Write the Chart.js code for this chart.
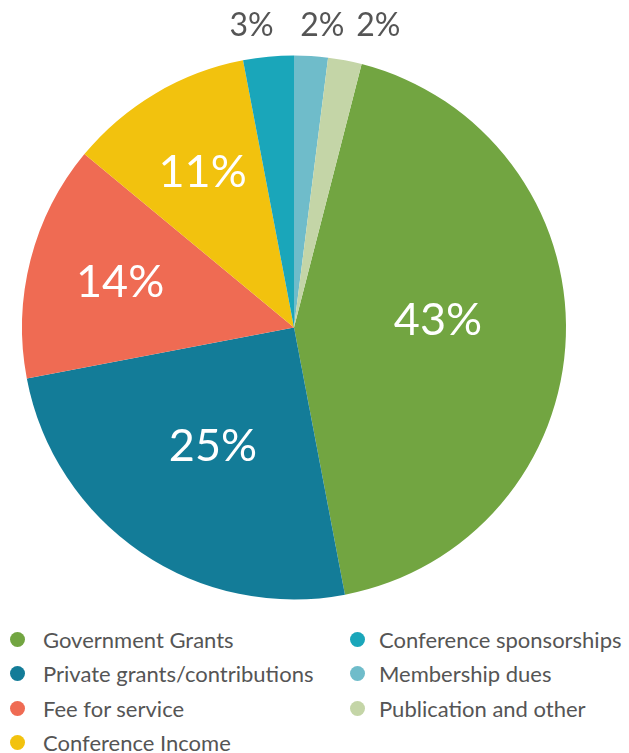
<!DOCTYPE html>
<html>
<head>
<meta charset="utf-8">
<script src="https://cdn.jsdelivr.net/npm/chart.js@4"></script>
<style>
    body { margin: 0; background: #fff; font-family: Lato, "Open Sans", sans-serif; }
    .chartContainer { position: relative; width: 629px; height: 620px; }
    .legend {
        display: grid;
        grid-auto-flow: column;
        grid-template-rows: repeat(4, 34.5px);
        grid-template-columns: 340px 280px;
        padding-left: 10px;
        margin-top: 2px;
    }
    .legendItem { display: flex; align-items: center; font-size: 22px; color: #555; white-space: nowrap; }
    .legendDot { width: 15px; height: 15px; border-radius: 50%; margin-right: 18px; flex: none; }
    .legendItem.second .legendDot { margin-right: 14px; }
</style>
</head>
<body>
<div class="chartContainer"><canvas id="pie"></canvas></div>
<div class="legend" id="legend"></div>
<script>
const categories = ["Government Grants", "Private grants/contributions", "Fee for service",
    "Conference Income", "Conference sponsorships", "Membership dues", "Publication and other"];
const shares = [43, 25, 14, 11, 3, 2, 2];
const colors = ["#72a541", "#137c98", "#ef6b53", "#f2c20e", "#1aa6ba", "#6fbcca", "#c4d5a7"];

// labels: inside for big slices, above the pie for the thin ones
const sliceLabels = {
    id: "sliceLabels",
    afterDatasetsDraw(chart) {
        const ctx = chart.ctx;
        const arcs = chart.getDatasetMeta(0).data;
        ctx.save();
        ctx.textAlign = "center";
        ctx.textBaseline = "middle";
        arcs.forEach((arc, i) => {
            let mid = (arc.startAngle + arc.endAngle) / 2;
            const R = arc.outerRadius;
            if (shares[i] >= 5) {
                if (shares[i] > 40) mid -= 0.08; // biggest label sits a bit higher
                const r = R * (shares[i] > 20 ? 0.53 : 0.66);
                ctx.font = "45px Lato";
                ctx.fillStyle = "#fff";
                ctx.fillText(shares[i] + "%", arc.x + Math.cos(mid) * r, arc.y + Math.sin(mid) * r);
            } else {
                ctx.font = "32px Lato";
                ctx.fillStyle = "#555";
                ctx.fillText(shares[i] + "%", arc.x + Math.cos(mid) * 450, arc.y - R - 30);
            }
        });
        ctx.restore();
    }
};

new Chart(document.getElementById("pie").getContext("2d"), {
    type: "pie",
    data: {
        labels: categories,
        datasets: [{
            data: shares,
            backgroundColor: colors,
            borderWidth: 0,
        }],
    },
    options: {
        responsive: true,
        maintainAspectRatio: false,
        animation: false,
        rotation: 14.4,
        layout: { padding: { top: 55, left: 22, right: 63, bottom: 20 } },
        plugins: { legend: { display: false }, tooltip: { enabled: false } },
    },
    plugins: [sliceLabels],
});

const legend = document.getElementById("legend");
categories.forEach((name, i) => {
    const item = document.createElement("div");
    item.className = "legendItem" + (i >= 4 ? " second" : "");
    item.innerHTML = '<span class="legendDot" style="background:' + colors[i] + '"></span>' + name;
    legend.appendChild(item);
});
</script>
</body>
</html>
